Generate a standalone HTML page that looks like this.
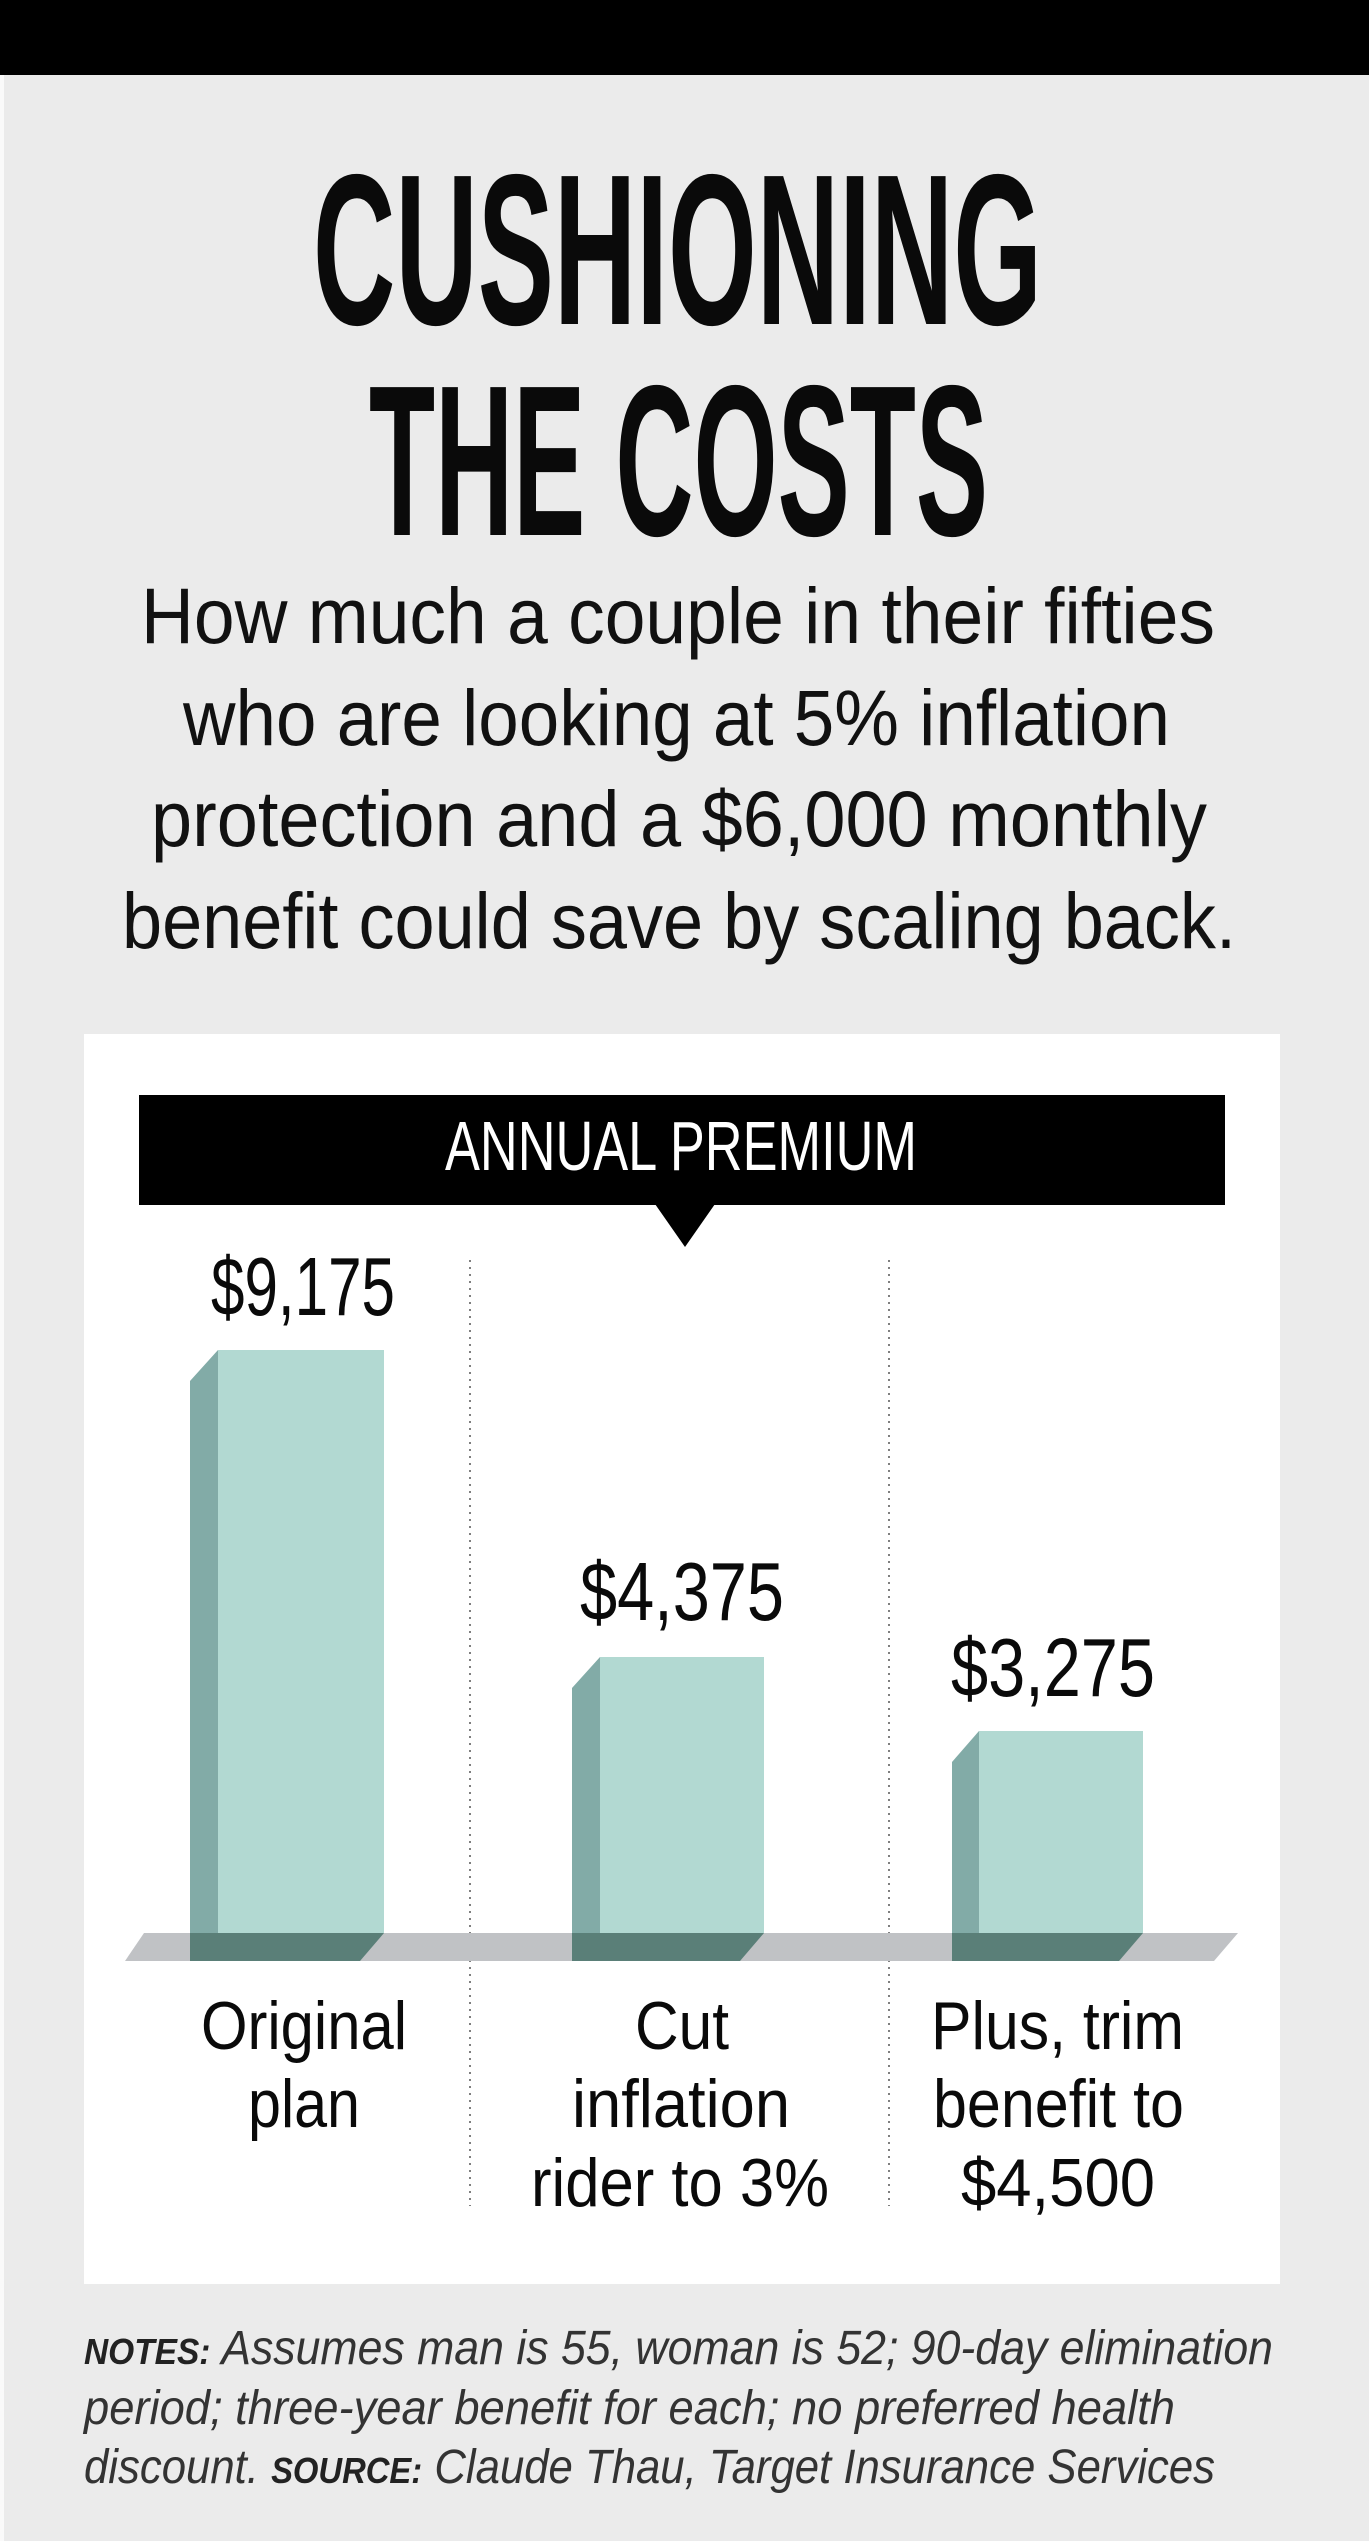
<!DOCTYPE html>
<html><head><meta charset="utf-8"><style>
html,body{margin:0;padding:0;background:#ebebeb}
svg{display:block}
</style></head><body>
<svg width="1369" height="2541" viewBox="0 0 1369 2541" xmlns="http://www.w3.org/2000/svg" font-family="Liberation Sans, sans-serif">
<rect x="0" y="0" width="1369" height="2541" fill="#ebebeb"/>
<rect x="0" y="0" width="4" height="2541" fill="#fafafa"/>
<rect x="0" y="0" width="1369" height="75" fill="#000"/>
<g font-weight="bold" fill="#0a0a0a" font-size="215">
<text x="313" y="324" textLength="729" lengthAdjust="spacingAndGlyphs">CUSHIONING</text>
<text x="369" y="535" textLength="619" lengthAdjust="spacingAndGlyphs">THE COSTS</text>
</g>
<g fill="#111" font-size="79">
<text x="141" y="643" textLength="1074" lengthAdjust="spacingAndGlyphs">How much a couple in their fifties</text>
<text x="183" y="745" textLength="987" lengthAdjust="spacingAndGlyphs">who are looking at 5% inflation</text>
<text x="151" y="846" textLength="1056" lengthAdjust="spacingAndGlyphs">protection and a $6,000 monthly</text>
<text x="122" y="948" textLength="1114" lengthAdjust="spacingAndGlyphs">benefit could save by scaling back.</text>
</g>
<rect x="84" y="1034" width="1196" height="1250" fill="#fff"/>
<rect x="139" y="1095" width="1086" height="110" fill="#000"/>
<polygon points="655,1204 715,1204 685,1247" fill="#000"/>
<text x="445" y="1170" font-size="70" fill="#fff" textLength="472" lengthAdjust="spacingAndGlyphs">ANNUAL PREMIUM</text>
<line x1="470" y1="1260" x2="470" y2="2206" stroke="#555" stroke-width="1.5" stroke-dasharray="2,5"/>
<line x1="889" y1="1260" x2="889" y2="2206" stroke="#555" stroke-width="1.5" stroke-dasharray="2,5"/>
<polygon points="144,1933 1238,1933 1214,1961 125,1961" fill="#c0c2c5"/>
<!-- bar1 -->
<polygon points="190,1381 218,1350 218,1961 190,1961" fill="#82aba7"/>
<rect x="218" y="1350" width="166" height="583" fill="#b2d9d2"/>
<polygon points="190,1933 384,1933 360,1961 190,1961" fill="#5a7f78"/>
<!-- bar2 -->
<polygon points="572,1688 600,1657 600,1961 572,1961" fill="#82aba7"/>
<rect x="600" y="1657" width="164" height="276" fill="#b2d9d2"/>
<polygon points="572,1933 764,1933 740,1961 572,1961" fill="#5a7f78"/>
<!-- bar3 -->
<polygon points="952,1762 979,1731 979,1961 952,1961" fill="#82aba7"/>
<rect x="979" y="1731" width="164" height="202" fill="#b2d9d2"/>
<polygon points="952,1933 1143,1933 1119,1961 952,1961" fill="#5a7f78"/>
<g font-size="83" fill="#0a0a0a">
<text x="211" y="1315" textLength="184" lengthAdjust="spacingAndGlyphs">$9,175</text>
<text x="580" y="1620" textLength="204" lengthAdjust="spacingAndGlyphs">$4,375</text>
<text x="951" y="1696" textLength="204" lengthAdjust="spacingAndGlyphs">$3,275</text>
</g>
<g font-size="68" fill="#0a0a0a">
<text x="201" y="2049" textLength="206" lengthAdjust="spacingAndGlyphs">Original</text>
<text x="248" y="2127" textLength="112" lengthAdjust="spacingAndGlyphs">plan</text>
<text x="635" y="2049" textLength="94" lengthAdjust="spacingAndGlyphs">Cut</text>
<text x="572" y="2127" textLength="218" lengthAdjust="spacingAndGlyphs">inflation</text>
<text x="531" y="2206" textLength="298" lengthAdjust="spacingAndGlyphs">rider to 3%</text>
<text x="931" y="2049" textLength="253" lengthAdjust="spacingAndGlyphs">Plus, trim</text>
<text x="933" y="2127" textLength="251" lengthAdjust="spacingAndGlyphs">benefit to</text>
<text x="961" y="2206" textLength="194" lengthAdjust="spacingAndGlyphs">$4,500</text>
</g>
<g font-size="48" font-style="italic" fill="#333">
<text x="84" y="2364" textLength="1189" lengthAdjust="spacingAndGlyphs"><tspan font-weight="bold" font-size="36" fill="#222">NOTES:</tspan> Assumes man is 55, woman is 52; 90-day elimination</text>
<text x="84" y="2424" textLength="1091" lengthAdjust="spacingAndGlyphs">period; three-year benefit for each; no preferred health</text>
<text x="84" y="2483" textLength="1131" lengthAdjust="spacingAndGlyphs">discount. <tspan font-weight="bold" font-size="36" fill="#222">SOURCE:</tspan> Claude Thau, Target Insurance Services</text>
</g>
</svg>
</body></html>
